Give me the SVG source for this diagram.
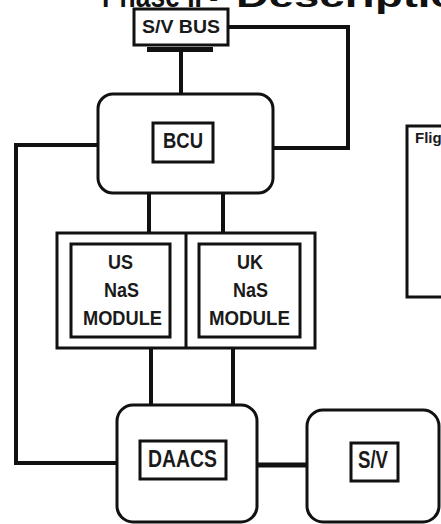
<svg xmlns="http://www.w3.org/2000/svg" width="441" height="524" viewBox="0 0 441 524">
<style>
.box{fill:#fff;stroke:#111;stroke-width:3}
.inner{fill:none;stroke:#111;stroke-width:3}
.lbl{font-family:"Liberation Sans",Arial,sans-serif;font-weight:bold;fill:#1a1a1a}
.wire{fill:none;stroke:#111;stroke-width:4;stroke-linejoin:miter}
.title{font-family:"Liberation Sans",Arial,sans-serif;font-weight:bold;fill:#111;font-size:32px}
</style>
<rect width="441" height="524" fill="#fff"/>
<text class="title" x="102" y="7" textLength="116" lengthAdjust="spacingAndGlyphs">Phase II -</text>
<text class="title" x="236" y="7" textLength="250" lengthAdjust="spacingAndGlyphs">Description</text>
<g id="connectors">
<path class="wire" d="M181,51 V94"/>
<path class="wire" d="M228,27 H348 V148 H274"/>
<path class="wire" d="M98,145 H16 V463 H118"/>
<path class="wire" d="M149,193 V233"/>
<path class="wire" d="M223,193 V233"/>
<path class="wire" d="M151,348 V405"/>
<path class="wire" d="M233,348 V405"/>
<path class="wire" style="stroke-width:5" d="M257,465 H307"/>
</g>
<g id="sv-bus">
<rect class="box" x="134" y="9" width="94" height="36"/>
<rect x="147" y="47" width="66" height="5" fill="#111"/>
<text class="lbl" x="142" y="33" font-size="19" textLength="78" lengthAdjust="spacingAndGlyphs">S/V BUS</text>
</g>
<g id="bcu">
<rect class="box" x="98" y="94" width="175" height="99" rx="15"/>
<rect class="inner" x="153" y="123" width="60" height="39"/>
<text class="lbl" x="163" y="148" font-size="22" textLength="40" lengthAdjust="spacingAndGlyphs">BCU</text>
</g>
<g id="modules">
<rect class="box" x="57" y="233" width="258" height="115"/>
<line x1="186" y1="233" x2="186" y2="348" stroke="#111" stroke-width="3"/>
</g>
<g id="us-module">
<rect class="inner" x="71" y="244" width="99" height="93"/>
<text class="lbl" font-size="21"><tspan x="108" y="269" textLength="25" lengthAdjust="spacingAndGlyphs">US</tspan><tspan x="104" y="297" textLength="35" lengthAdjust="spacingAndGlyphs">NaS</tspan><tspan x="83" y="325" textLength="79" lengthAdjust="spacingAndGlyphs">MODULE</tspan></text>
</g>
<g id="uk-module">
<rect class="inner" x="199" y="244" width="101" height="93"/>
<text class="lbl" font-size="21"><tspan x="237" y="269" textLength="26" lengthAdjust="spacingAndGlyphs">UK</tspan><tspan x="233" y="297" textLength="35" lengthAdjust="spacingAndGlyphs">NaS</tspan><tspan x="209" y="325" textLength="81" lengthAdjust="spacingAndGlyphs">MODULE</tspan></text>
</g>
<g id="daacs">
<rect class="box" x="117" y="405" width="140" height="117" rx="16"/>
<rect class="inner" x="140" y="441" width="86" height="38"/>
<text class="lbl" x="148" y="467" font-size="23" textLength="69" lengthAdjust="spacingAndGlyphs">DAACS</text>
</g>
<g id="sv">
<rect class="box" x="307" y="410" width="132" height="112" rx="16"/>
<rect class="inner" x="351" y="443" width="47" height="38"/>
<text class="lbl" x="358" y="468" font-size="23" textLength="30" lengthAdjust="spacingAndGlyphs">S/V</text>
</g>
<g id="flight-box">
<rect class="box" x="407" y="126" width="40" height="171"/>
<text class="lbl" x="415" y="143" font-size="15">Flight</text>
</g>
</svg>
